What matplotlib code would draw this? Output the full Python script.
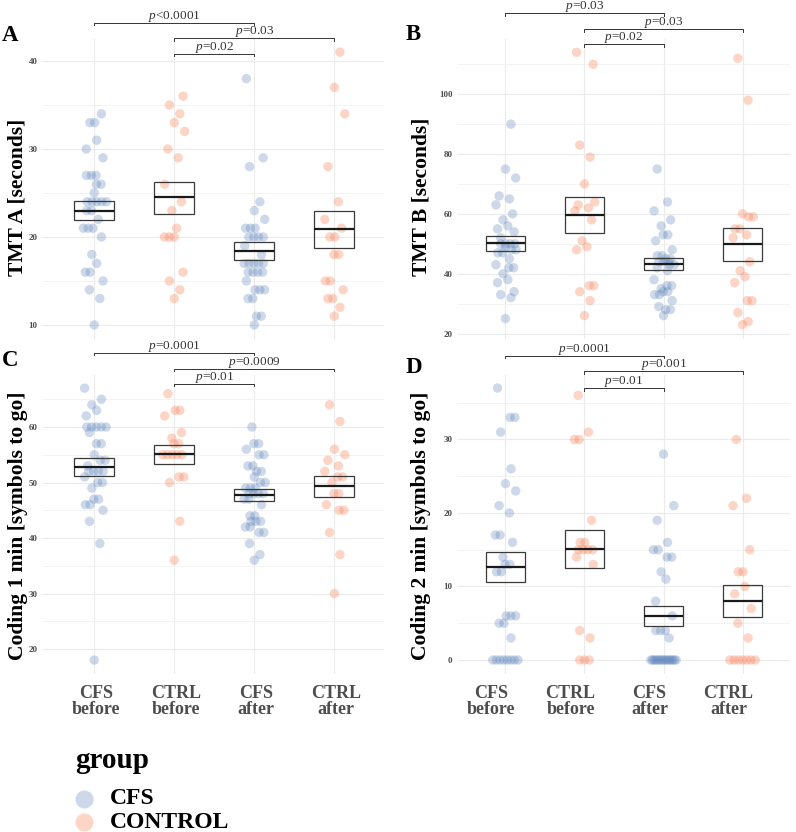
import numpy as np
import matplotlib.pyplot as plt
from matplotlib.lines import Line2D
from matplotlib.patches import Rectangle
import matplotlib.transforms as mtransforms

plt.rcParams['font.family'] = ['Liberation Serif', 'DejaVu Serif']
plt.rcParams['mathtext.fontset'] = 'custom'
plt.rcParams['mathtext.it'] = 'Liberation Serif:italic'
plt.rcParams['mathtext.rm'] = 'Liberation Serif'

# categories / groups
categories = ['CFS\nbefore', 'CTRL\nbefore', 'CFS\nafter', 'CTRL\nafter']
cat_group = ['CFS', 'CONTROL', 'CFS', 'CONTROL']
group_names = ['CFS', 'CONTROL']

# A: TMT A [seconds]
tmt_a_cfs_before = [34, 33, 33, 31, 30, 29, 27, 27, 27, 26, 26, 25, 24, 24, 24, 24, 24, 23, 23, 22,
                    21, 21, 21, 20, 18, 17, 16, 16, 15, 14, 13, 10]
tmt_a_ctrl_before = [36, 35, 34, 33, 32, 30, 29, 26, 24, 23, 21, 20, 20, 20, 16, 15, 14, 13]
tmt_a_cfs_after = [38, 29, 28, 24, 23, 22, 21, 21, 21, 20, 20, 20, 20, 19, 18, 17, 17, 17, 17, 17,
                   16, 16, 16, 16, 15, 14, 14, 14, 13, 13, 11, 11, 10]
tmt_a_ctrl_after = [41, 37, 34, 28, 24, 22, 21, 20, 20, 18, 18, 15, 15, 14, 13, 13, 12, 11]
tmt_a_mean = [23.0, 24.5, 18.4, 20.9]
tmt_a_lo = [21.9, 22.65, 17.4, 18.8]
tmt_a_hi = [24.1, 26.3, 19.4, 23.0]

# B: TMT B [seconds]
tmt_b_cfs_before = [90, 75, 72, 66, 65, 63, 60, 58, 56, 55, 54, 52, 50, 50, 50, 50, 49, 48, 48, 47,
                    47, 45, 43, 42, 42, 40, 38, 37, 34, 33, 32, 25]
tmt_b_ctrl_before = [114, 110, 83, 79, 70, 64, 63, 62, 61, 58, 51, 49, 48, 36, 36, 34, 31, 26]
tmt_b_cfs_after = [75, 64, 61, 58, 56, 53, 53, 51, 48, 46, 46, 45, 45, 44, 44, 44, 43, 43, 42, 41,
                   38, 36, 36, 35, 34, 34, 33, 33, 31, 29, 28, 28, 26]
tmt_b_ctrl_after = [112, 98, 60, 59, 59, 55, 55, 53, 52, 44, 41, 39, 37, 31, 31, 27, 24, 23]
tmt_b_mean = [50.1, 59.6, 43.1, 49.8]
tmt_b_lo = [47.5, 53.6, 41.1, 44.2]
tmt_b_hi = [52.5, 65.5, 45.3, 55.3]

# C: Coding 1 min [symbols to go]
coding1_cfs_before = [67, 65, 64, 63, 62, 60, 60, 60, 60, 60, 59, 57, 57, 55, 54, 54, 53, 52, 52, 52,
                      52, 51, 50, 50, 49, 47, 47, 46, 46, 45, 43, 39, 18]
coding1_ctrl_before = [66, 63, 63, 62, 59, 58, 57, 57, 55, 55, 55, 55, 55, 51, 51, 50, 43, 36]
coding1_cfs_after = [60, 57, 57, 56, 55, 55, 53, 53, 52, 52, 51, 50, 50, 49, 49, 49, 48, 48, 48, 48,
                     47, 47, 46, 44, 44, 43, 43, 43, 42, 42, 41, 41, 39, 37, 36]
coding1_ctrl_after = [64, 61, 56, 55, 54, 53, 52, 51, 51, 50, 48, 48, 46, 45, 45, 41, 37, 30]
coding1_mean = [52.8, 55.1, 47.8, 49.3]
coding1_lo = [51.1, 53.4, 46.6, 47.3]
coding1_hi = [54.5, 56.8, 48.9, 51.2]

# D: Coding 2 min [symbols to go]
coding2_cfs_before = [37, 33, 33, 31, 26, 24, 23, 21, 20, 17, 17, 16, 14, 13, 13, 12, 12, 6, 6, 6,
                      5, 5, 3, 0, 0, 0, 0, 0, 0, 0, 0]
coding2_ctrl_before = [36, 31, 30, 30, 19, 16, 16, 15, 15, 15, 15, 14, 13, 4, 3, 0, 0, 0]
coding2_cfs_after = [28, 21, 19, 16, 15, 15, 14, 14, 12, 11, 8, 6, 4, 4, 4, 3,
                     0, 0, 0, 0, 0, 0, 0, 0, 0, 0, 0, 0, 0, 0, 0, 0]
coding2_ctrl_after = [30, 22, 21, 15, 12, 12, 10, 9, 7, 5, 3, 0, 0, 0, 0, 0, 0, 0]
coding2_mean = [12.6, 15.1, 6.05, 8.0]
coding2_lo = [10.6, 12.45, 4.6, 5.9]
coding2_hi = [14.7, 17.7, 7.4, 10.2]

colors = {'CFS': '#5b82ba', 'CONTROL': '#f8875f'}
alphas = {'CFS': 0.3, 'CONTROL': 0.35}

W, H = 796, 832
fig = plt.figure(figsize=(W / 100, H / 100), dpi=100)


def px_axes(l, t, r, b):
    return fig.add_axes([l / W, 1 - b / H, (r - l) / W, (b - t) / H])


def jitter(vals):
    # spread tied values side by side, small fixed wobble for the rest
    vals = np.asarray(vals, float)
    off = np.zeros(len(vals))
    pattern = [0.0, 0.07, -0.06, 0.11, -0.1, 0.03, -0.03, 0.09, -0.12, 0.05, -0.08, 0.13]
    for k, v in enumerate(np.unique(vals)):
        idx = np.where(vals == v)[0]
        n = len(idx)
        half = min(0.03 * (n - 1), 0.16)
        base = pattern[k % len(pattern)] * (1 - half / 0.16)
        off[idx] = base + np.linspace(-half, half, n)
    return off


panels = [
    dict(box=(43, 38.6, 384, 338.6), xlim=(-0.64, 3.62), ylim=(8.45, 42.55),
         major=[10, 20, 30, 40], minor=[15, 25, 35],
         data=[tmt_a_cfs_before, tmt_a_ctrl_before, tmt_a_cfs_after, tmt_a_ctrl_after],
         mean=tmt_a_mean, lo=tmt_a_lo, hi=tmt_a_hi,
         ylabel='TMT A [seconds]', lab_xy=(18, 197), letter='A', let_xy=(2, 41),
         brackets=[(0, 2, 44.35, r'$p$<0.0001'), (1, 3, 42.58, r'$p$=0.03'), (1, 2, 40.8, r'$p$=0.02')],
         xlabels=False, shift=0),
    dict(box=(458, 38.6, 790, 338.6), xlim=(-0.6, 3.6), ylim=(18.3, 118.6),
         major=[20, 40, 60, 80, 100], minor=[30, 50, 70, 90, 110],
         data=[tmt_b_cfs_before, tmt_b_ctrl_before, tmt_b_cfs_after, tmt_b_ctrl_after],
         mean=tmt_b_mean, lo=tmt_b_lo, hi=tmt_b_hi,
         ylabel='TMT B [seconds]', lab_xy=(421, 197), letter='B', let_xy=(406, 40),
         brackets=[(0, 2, 127.1, r'$p$=0.03'), (1, 3, 121.8, r'$p$=0.03'), (1, 2, 116.7, r'$p$=0.02')],
         xlabels=False, shift=0),
    dict(box=(43, 374.5, 384, 673.6), xlim=(-0.64, 3.62), ylim=(15.57, 69.46),
         major=[20, 30, 40, 50, 60], minor=[25, 35, 45, 55, 65],
         data=[coding1_cfs_before, coding1_ctrl_before, coding1_cfs_after, coding1_ctrl_after],
         mean=coding1_mean, lo=coding1_lo, hi=coding1_hi,
         ylabel='Coding 1 min [symbols to go]', lab_xy=(18, 526), letter='C', let_xy=(2, 366),
         brackets=[(0, 2, 73.4, r'$p$=0.0001'), (1, 3, 70.5, r'$p$=0.0009'), (1, 2, 67.8, r'$p$=0.01')],
         xlabels=True, shift=2),
    dict(box=(458, 374.5, 790, 673.6), xlim=(-0.6, 3.6), ylim=(-1.85, 38.84),
         major=[0, 10, 20, 30], minor=[5, 15, 25, 35],
         data=[coding2_cfs_before, coding2_ctrl_before, coding2_cfs_after, coding2_ctrl_after],
         mean=coding2_mean, lo=coding2_lo, hi=coding2_hi,
         ylabel='Coding 2 min [symbols to go]', lab_xy=(421, 526), letter='D', let_xy=(406, 373),
         brackets=[(0, 2, 41.4, r'$p$=0.0001'), (1, 3, 39.3, r'$p$=0.001'), (1, 2, 37.0, r'$p$=0.01')],
         xlabels=True, shift=-14),
]

for p in panels:
    ax = px_axes(*p['box'])
    ax.set_xlim(*p['xlim'])
    ax.set_ylim(*p['ylim'])
    for s in ax.spines.values():
        s.set_visible(False)
    ax.set_yticks(p['major'])
    ax.set_yticks(p['minor'], minor=True)
    ax.set_xticks(range(len(categories)))
    ax.grid(which='major', color='#ebebeb', lw=0.8, zorder=0)
    ax.grid(which='minor', axis='y', color='#f1f1f1', lw=0.6, zorder=0)
    ax.tick_params(which='both', length=0)
    ax.tick_params(axis='y', labelsize=6.5, labelcolor='#4d4d4d', pad=4)
    for t in ax.get_yticklabels():
        t.set_fontweight('bold')

    if p['xlabels']:
        ax.set_xticklabels(categories, fontsize=13, fontweight='bold', color='#4d4d4d',
                           linespacing=0.95)
        ax.tick_params(axis='x', pad=8)
        off = mtransforms.ScaledTranslation(p['shift'] / 100, 0, fig.dpi_scale_trans)
        for t in ax.get_xticklabels():
            t.set_transform(t.get_transform() + off)
    else:
        ax.set_xticklabels([])

    for i, vals in enumerate(p['data']):
        g = cat_group[i]
        ax.scatter(i + jitter(vals), vals, s=46, color=colors[g], alpha=alphas[g],
                   edgecolors='none', zorder=2)
        m, lo, hi = p['mean'][i], p['lo'][i], p['hi'][i]
        ax.add_patch(Rectangle((i - 0.25, lo), 0.5, hi - lo, fill=False,
                               edgecolor='#3a3a3a', lw=0.9, zorder=3))
        ax.plot([i - 0.25, i + 0.25], [m, m], color='#1a1a1a', lw=1.6, zorder=4,
                solid_capstyle='butt')

    yr = p['ylim'][1] - p['ylim'][0]
    tick = 2.5 / (p['box'][3] - p['box'][1]) * yr
    for i, j, y, txt in p['brackets']:
        ax.plot([i, i, j, j], [y - tick, y, y, y - tick], color='#333333', lw=0.7,
                clip_on=False, zorder=5)
        ax.annotate(txt, xy=((i + j) / 2, y), xytext=(0, 2.8), textcoords='offset points',
                    ha='center', va='baseline', fontsize=9.5, color='#333333',
                    annotation_clip=False)

    fig.text(p['lab_xy'][0] / W, 1 - p['lab_xy'][1] / H, p['ylabel'], rotation=90,
             ha='center', va='center', fontsize=15.5, fontweight='bold', color='black')
    fig.text(p['let_xy'][0] / W, 1 - p['let_xy'][1] / H, p['letter'], ha='left',
             va='baseline', fontsize=16.5, fontweight='bold', color='black')

# legend
fig.text(75 / W, 1 - 768 / H, 'group', ha='left', va='baseline', fontsize=21,
         fontweight='bold', color='black')
for k, g in enumerate(group_names):
    yk = 799 + 23 * k
    fig.add_artist(Line2D([84 / W], [1 - yk / H], marker='o', markersize=13, color=colors[g],
                          alpha=alphas[g], markeredgewidth=0, linestyle='none',
                          transform=fig.transFigure))
    fig.text(110 / W, 1 - yk / H, g, ha='left', va='center', fontsize=17,
             fontweight='bold', color='black')

fig.savefig('out.png', dpi=100)
